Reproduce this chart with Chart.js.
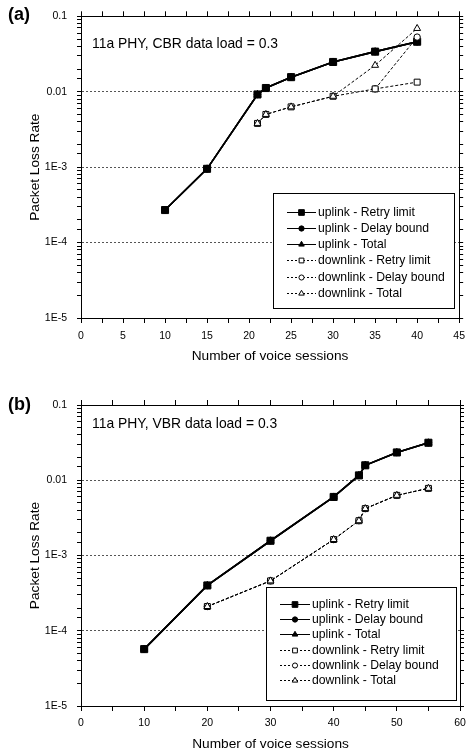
<!DOCTYPE html>
<html>
<head>
<meta charset="utf-8">
<script src="https://cdn.jsdelivr.net/npm/chart.js@4.4.1/dist/chart.umd.min.js"></script>
<style>
  html, body { margin:0; padding:0; background:#fff; }
  #wrap { position:relative; width:472px; height:751px; overflow:hidden; }
  canvas { position:absolute; left:0; }
  #chartA { top:0; }
  #chartB { top:370px; }
</style>
</head>
<body>
<div id="wrap">
  <canvas id="chartA" width="472" height="370"></canvas>
  <canvas id="chartB" width="472" height="381"></canvas>
</div>
<script>
/* panel (a): 11a PHY, CBR data load = 0.3 */
const upXA = [10, 15, 21, 22, 25, 30, 35, 40];
const upRetryA = [2.7e-4, 9.5e-4, 0.0092, 0.0112, 0.0156, 0.0248, 0.034, 0.046];
const upDelayA = [2.7e-4, 9.5e-4, 0.0092, 0.0112, 0.0156, 0.0248, 0.034, 0.046];
const upTotalA = [2.7e-4, 9.5e-4, 0.0092, 0.0112, 0.0156, 0.0248, 0.034, 0.046];
const dnXA = [21, 22, 25, 30, 35, 40];
const dnRetryA = [0.0038, 0.0050, 0.0063, 0.0087, 0.0109, 0.0134];
const dnDelayA = [null, null, null, null, 0.0109, 0.053];
const dnTotalA = [0.0038, 0.0050, 0.0063, 0.0087, 0.0224, 0.069];

/* panel (b): 11a PHY, VBR data load = 0.3 */
const upXB = [10, 20, 30, 40, 44, 45, 50, 55];
const upRetryB = [5.7e-5, 4.0e-4, 1.57e-3, 6.0e-3, 0.0116, 0.0158, 0.0234, 0.0315];
const upDelayB = [5.7e-5, 4.0e-4, 1.57e-3, 6.0e-3, 0.0116, 0.0158, 0.0234, 0.0315];
const upTotalB = [5.7e-5, 4.0e-4, 1.57e-3, 6.0e-3, 0.0116, 0.0158, 0.0234, 0.0315];
const dnXB = [20, 30, 40, 44, 45, 50, 55];
const dnRetryB = [2.1e-4, 4.6e-4, 1.63e-3, 2.9e-3, 4.2e-3, 6.3e-3, 7.8e-3];
const dnDelayB = [2.1e-4, 4.6e-4, 1.63e-3, 2.9e-3, 4.2e-3, 6.3e-3, 7.8e-3];
const dnTotalB = [2.1e-4, 4.6e-4, 1.63e-3, 2.9e-3, 4.2e-3, 6.3e-3, 7.8e-3];

const seriesNames = ['uplink - Retry limit', 'uplink - Delay bound', 'uplink - Total',
  'downlink - Retry limit', 'downlink - Delay bound', 'downlink - Total'];
const yTickValues = [1e-5, 1e-4, 1e-3, 0.01, 0.1];
const yTickLabels = ['1E-5', '1E-4', '1E-3', '0.01', '0.1'];

const FONT = '"Liberation Sans", Arial, Helvetica, sans-serif';
Chart.defaults.font.family = FONT;
Chart.defaults.color = '#000';

// marker / line look per series
const LOOK = [
  { pointStyle:'rect',     radius:5,   fill:'#000', dash:[],    width:1.6, order:3 },
  { pointStyle:'circle',   radius:3.3, fill:'#000', dash:[],    width:1.6, order:4 },
  { pointStyle:'triangle', radius:4,   fill:'#000', dash:[],    width:1.6, order:5 },
  { pointStyle:'rect',     radius:4.2, fill:'#fff', dash:[3,2], width:1,   order:1 },
  { pointStyle:'circle',   radius:3.2, fill:'#fff', dash:[3,2], width:1,   order:2 },
  { pointStyle:'triangle', radius:4,   fill:'#fff', dash:[3,2], width:1,   order:0 },
];

function pts(xs, ys) { return xs.map((x, i) => ({ x, y: ys[i] })); }

function buildDatasets(series) {
  return series.map((s, i) => {
    const l = LOOK[i];
    return {
      label: seriesNames[i], data: pts(s[0], s[1]),
      borderColor:'#000', borderWidth:l.width, borderDash:l.dash,
      pointStyle:l.pointStyle, pointRadius:l.radius, pointBackgroundColor:l.fill,
      pointBorderColor:'#000', pointBorderWidth:1, tension:0, order:l.order,
      showLine:true, spanGaps:false,
    };
  });
}

const isDecade = v => Math.abs(Math.log10(v) - Math.round(Math.log10(v))) < 1e-6;

function yLabel(v) {
  const i = yTickValues.findIndex(t => Math.abs(t - v) / t < 1e-6);
  return i >= 0 ? yTickLabels[i] : '';
}

const legendBox = {
  id: 'legendBox',
  afterDatasetsDraw(chart, args, o) {
    const ctx = chart.ctx;
    ctx.save();
    ctx.fillStyle = '#fff';
    ctx.fillRect(o.x, o.y, o.w, o.h);
    ctx.strokeStyle = '#000'; ctx.lineWidth = 1;
    ctx.strokeRect(o.x + 0.5, o.y + 0.5, o.w, o.h);
    ctx.font = `12.2px ${FONT}`;
    ctx.textBaseline = 'middle';
    chart.data.datasets.forEach((ds, i) => {
      const cy = Math.round(o.y + o.first + i * o.step) + 0.5;
      const x0 = o.x + o.lineX;
      ctx.strokeStyle = '#000';
      ctx.lineWidth = 1;
      ctx.setLineDash(ds.borderDash.length ? [2, 2] : []);
      ctx.beginPath(); ctx.moveTo(x0, cy); ctx.lineTo(x0 + o.lineW, cy); ctx.stroke();
      ctx.setLineDash([]);
      ctx.fillStyle = ds.pointBackgroundColor;
      Chart.helpers.drawPoint(ctx, { pointStyle: ds.pointStyle, radius: ds.pointRadius * 0.8, rotation: 0, borderWidth: 1 }, x0 + o.lineW / 2, cy);
      ctx.fillStyle = '#000';
      ctx.fillText(ds.label, o.x + o.textX, cy + 0.5);
    });
    ctx.restore();
  }
};

const panelText = {
  id: 'panelText',
  afterDraw(chart, args, o) {
    const ctx = chart.ctx;
    ctx.save();
    ctx.fillStyle = '#000';
    ctx.textBaseline = 'middle';
    ctx.font = `bold 18px ${FONT}`;
    ctx.fillText(o.tag, 8, o.tagY);
    ctx.font = `13.9px ${FONT}`;
    ctx.fillText(o.note, 92, o.noteY);
    ctx.restore();
  }
};

function makeChart(id, series, xMax, xMajor, sizes, legend, text) {
  const xLinear = {
    type:'linear', min:0, max:xMax,
    ticks:{ stepSize:xMajor / 2, autoSkip:false, maxRotation:0, padding:sizes.xTickPad, font:{ size:10.5 } },
    grid:{ drawOnChartArea:false, tickLength:5, tickColor:'#000' },
    border:{ color:'#000', width:1 },
  };
  const yLog = {
    type:'logarithmic', min:1e-5, max:0.1,
    ticks:{ autoSkip:false, padding:10, font:{ size:10.5 } },
    grid:{ drawOnChartArea:false, tickLength:4, tickColor:'#000' },
    border:{ color:'#000', width:1 },
  };
  return new Chart(document.getElementById(id), {
    type:'scatter',
    data:{ datasets: buildDatasets(series) },
    plugins:[legendBox, panelText],
    options:{
      responsive:false, animation:false, devicePixelRatio:1,
      layout:{ padding:0 },
      plugins:{
        legend:{ display:false }, tooltip:{ enabled:false },
        legendBox: legend, panelText: text,
      },
      scales:{
        x:{ ...xLinear, position:'bottom',
          ticks:{ ...xLinear.ticks, callback: v => (v % xMajor === 0 ? String(v) : '') },
          title:{ display:true, text:'Number of voice sessions', font:{ size:13.7, lineHeight:1 }, padding:{ top:0, bottom:sizes.xTitlePad } },
          afterFit: s => { s.height = sizes.bottom; } },
        x2:{ ...xLinear, position:'top', ticks:{ ...xLinear.ticks, callback: () => '' },
          afterFit: s => { s.height = sizes.top; } },
        y:{ ...yLog, position:'left',
          ticks:{ ...yLog.ticks, callback: v => yLabel(v) },
          grid:{ drawOnChartArea:true, tickLength:4, tickColor:'#000', lineWidth:1,
            color: c => (c.tick && isDecade(c.tick.value) ? '#555' : 'rgba(0,0,0,0)') },
          border:{ color:'#000', width:1, dash:[2, 2] },
          title:{ display:true, text:'Packet Loss Rate', font:{ size:13.7, lineHeight:1 }, padding:{ top:28, bottom:0 } },
          afterFit: s => { s.width = 81; } },
        y2:{ ...yLog, position:'right', ticks:{ ...yLog.ticks, callback: () => '' },
          afterFit: s => { s.width = 12; } },
      },
    },
  });
}

makeChart('chartA',
  [[upXA, upRetryA], [upXA, upDelayA], [upXA, upTotalA], [dnXA, dnRetryA], [dnXA, dnDelayA], [dnXA, dnTotalA]],
  45, 5,
  { bottom:52, top:15, xTitlePad:6.5, xTickPad:7 },
  { x:273, y:193, w:181, h:115, first:18.7, step:16.2, lineX:14, lineW:29, textX:45 },
  { tag:'(a)', tagY:15, note:'11a PHY, CBR data load = 0.3', noteY:44 });

makeChart('chartB',
  [[upXB, upRetryB], [upXB, upDelayB], [upXB, upTotalB], [dnXB, dnRetryB], [dnXB, dnDelayB], [dnXB, dnTotalB]],
  60, 10,
  { bottom:45, top:35, xTitlePad:0, xTickPad:6 },
  { x:266, y:217, w:190, h:113, first:17, step:15.2, lineX:14, lineW:30, textX:46 },
  { tag:'(b)', tagY:35, note:'11a PHY, VBR data load = 0.3', noteY:54 });
</script>
</body>
</html>
